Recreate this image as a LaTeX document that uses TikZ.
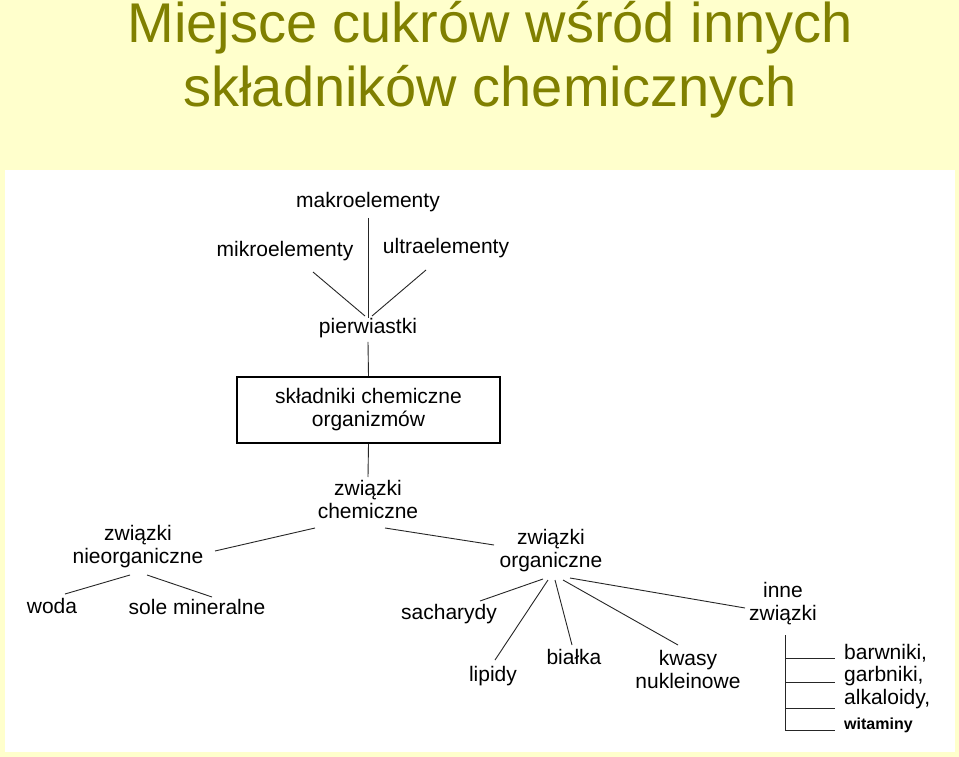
\documentclass[tikz,border=0pt]{standalone}
\usepackage{fontspec}
\setmainfont{Liberation Sans}
\begin{document}
\begin{tikzpicture}[x=1pt,y=-1pt,
  t/.style={font=\fontsize{21}{23}\selectfont, inner sep=1pt, align=center},
  ln/.style={draw=black!85, line width=0.9pt}]
\fill[fill={rgb,255:red,255;green,255;blue,204}] (0,0) rectangle (959,757);
\useasboundingbox (0,0) rectangle (959,757);
\fill[white] (5,170) rectangle (955,752);
\node[font=\fontsize{56}{64}\selectfont, text={rgb,255:red,128;green,128;blue,0}, align=center] (title) at (490,60) {Miejsce cukrów wśród innych\\składników chemicznych};
\node[t] (makro) at (368,202) {makroelementy};
\node[t] (mikro) at (285,251) {mikroelementy};
\node[t] (ultra) at (446,248) {ultraelementy};
\node[t] (pierw) at (368,328) {pierwiastki};
\node[t, draw, line width=1.6pt, minimum width=263, minimum height=66] (box) at (368.5,410) {składniki chemiczne\\organizmów};
\node[t] (zchem) at (368,499) {związki\\chemiczne};
\node[t] (nieorg) at (138,547) {związki\\nieorganiczne};
\node[t] (woda) at (52,606) {woda};
\node[t] (sole) at (197,607) {sole mineralne};
\node[t] (org) at (551,551) {związki\\organiczne};
\node[t] (sach) at (449,614) {sacharydy};
\node[t] (lip) at (493,676) {lipidy};
\node[t] (bial) at (574,657) {białka};
\node[t] (kwasy) at (688,669) {kwasy\\nukleinowe};
\node[t] (inne) at (783,604) {inne\\związki};
\node[t, anchor=west] (barw) at (843,653) {barwniki,};
\node[t, anchor=west] (garb) at (843,676) {garbniki,};
\node[t, anchor=west] (alk) at (843,699) {alkaloidy,};
\node[t, anchor=west, font=\fontsize{16}{18}\selectfont\bfseries] (wit) at (843,725) {witaminy};

\draw[ln] (makro.south) ++(0,5) coordinate (m1) -- (368,318) coordinate (pt);
\draw[ln] (313,272) coordinate (a1) -- (365,316) coordinate (a2);
\draw[ln] (426,270) coordinate (b1) -- (372,316) coordinate (b2);
\draw[ln] (pierw.south) ++(0,3) -- (box.north);
\draw[ln] (box.south) -- (368,477);
\draw[ln] (315,528) -- (215,551);
\draw[ln] (385,528) -- (494,545);
\draw[ln] (130,575) -- (65,594);
\draw[ln] (147,575) -- (212,597);
\draw[ln] (543,579) -- (480,601);
\draw[ln] (548,580) -- (495,660);
\draw[ln] (555,580) -- (572,645);
\draw[ln] (563,580) -- (678,645);
\draw[ln] (570,578) -- (745,608);
\draw[ln] (785,635) -- (785,730) -- (835,730);
\draw[ln] (785,658) -- (835,658);
\draw[ln] (785,682) -- (835,682);
\draw[ln] (785,708) -- (835,708);
\end{tikzpicture}
\end{document}
